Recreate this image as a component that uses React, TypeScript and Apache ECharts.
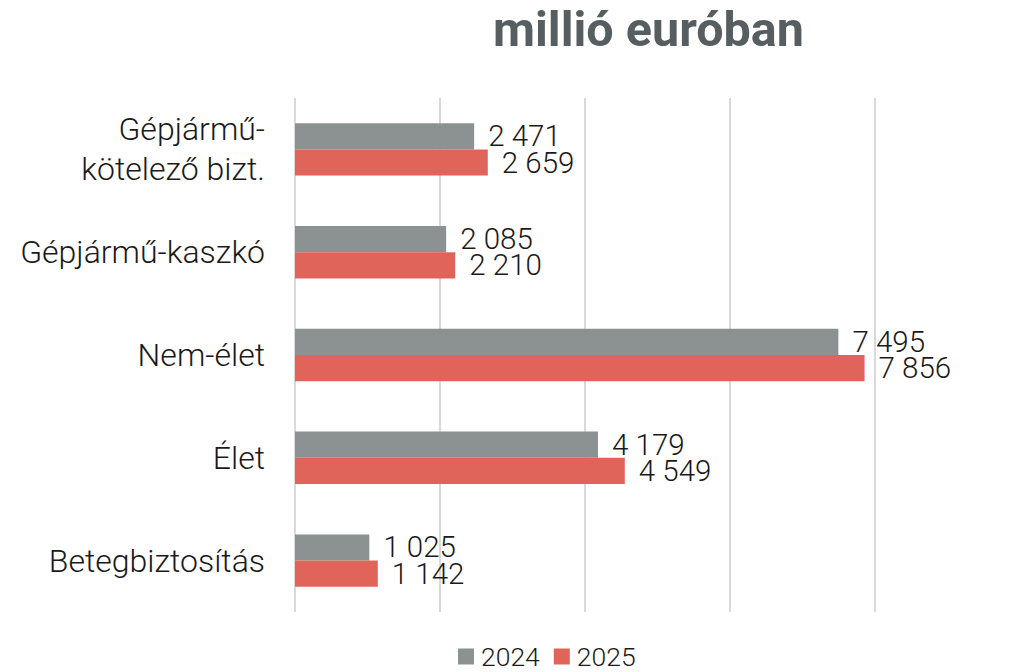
import React, { useEffect, useRef } from "react";
import * as echarts from "echarts";

const categories = ["Gépjármű-\nkötelező bizt.", "Gépjármű-kaszkó", "Nem-élet", "Élet", "Betegbiztosítás"];
const seriesNames = ["2024", "2025"];
const values2024 = [2471, 2085, 7495, 4179, 1025];
const values2025 = [2659, 2210, 7856, 4549, 1142];
const titleText = "millió euróban";

const fmt = (v: number) => {
  const s = Math.round(v).toString();
  return s.replace(/\B(?=(\d{3})+(?!\d))/g, " ");
};

export default function App() {
  const ref = useRef<HTMLDivElement>(null);
  useEffect(() => {
    document.body.style.margin = "0";
    const chart = echarts.init(ref.current!, null, { renderer: "svg" });
    const labelStyle = {
      show: true,
      position: "right" as const,
      distance: 14,
      fontFamily: "Roboto",
      fontWeight: 300,
      fontSize: 29.5,
      color: "#1a1a1a",
      formatter: (p: any) => fmt(p.value),
    };
    chart.setOption({
      animation: false,
      title: {
        text: titleText,
        left: 488,
        top: 0,
        textStyle: { fontFamily: "Roboto", fontWeight: "bold", fontSize: 48.5, color: "#575e62" },
      },
      legend: {
        bottom: -3,
        left: 453,
        data: seriesNames,
        icon: "rect",
        itemWidth: 16,
        itemHeight: 16,
        itemGap: 14,
        textStyle: { fontFamily: "Roboto", fontWeight: 300, fontSize: 26.5, color: "#1a1a1a", padding: [0, 0, 0, 2] },
      },
      grid: { left: 295, top: 98, width: 580, height: 514, containLabel: false },
      xAxis: {
        type: "value",
        min: 0,
        max: 8000,
        interval: 2000,
        axisLabel: { show: false },
        axisLine: { show: false },
        axisTick: { show: false },
        splitLine: { show: true, lineStyle: { color: "#d9d9d9", width: 2 } },
      },
      yAxis: {
        type: "category",
        inverse: true,
        data: categories,
        axisLine: { show: false },
        axisTick: { show: false },
        axisLabel: {
          margin: 30,
          fontFamily: "Roboto",
          fontWeight: 300,
          fontSize: 32,
          lineHeight: 40,
          color: "#1a1a1a",
          align: "right",
        },
      },
      series: [
        {
          name: seriesNames[0],
          type: "bar",
          data: values2024,
          itemStyle: { color: "#8c9292" },
          barGap: "0%",
          barCategoryGap: "49%",
          label: labelStyle,
        },
        {
          name: seriesNames[1],
          type: "bar",
          data: values2025,
          itemStyle: { color: "#e0645a" },
          barGap: "0%",
          barCategoryGap: "49%",
          label: labelStyle,
        },
      ],
    });
    return () => chart.dispose();
  }, []);
  return <div ref={ref} style={{ width: 1018, height: 672 }} />;
}
